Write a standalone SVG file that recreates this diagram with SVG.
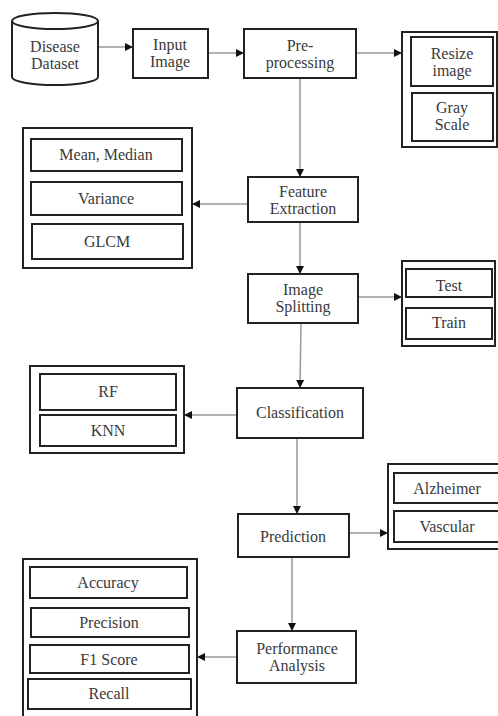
<svg xmlns="http://www.w3.org/2000/svg" width="498" height="716" viewBox="0 0 498 716" font-family="'Liberation Serif', 'Times New Roman', 'DejaVu Serif', serif">
<defs>
<marker id="ah" viewBox="0 0 10 10" refX="10" refY="5" markerWidth="8" markerHeight="8" markerUnits="userSpaceOnUse" orient="auto">
<path d="M0,0 L10,5 L0,10 z" fill="#111"/>
</marker>
<style>
.b{fill:#fff;stroke:#222;stroke-width:2}
.o{fill:#fff;stroke:#222;stroke-width:2}
.c{fill:none;stroke:#999;stroke-width:1.5;marker-end:url(#ah)}
text{font-size:16px;fill:#3a3a3a;text-anchor:middle}
</style>
</defs>
<rect width="498" height="716" fill="#fff"/>
<g id="connectors">
<path class="c" d="M98,47 H133"/>
<path class="c" d="M208,53 H244"/>
<path class="c" d="M356,53 H402"/>
<path class="c" d="M300,78 V177"/>
<path class="c" d="M248,204 H192"/>
<path class="c" d="M300,222 V274"/>
<path class="c" d="M358,297 H402"/>
<path class="c" d="M301,323 L300,388"/>
<path class="c" d="M237,415 H184"/>
<path class="c" d="M297,438 V514"/>
<path class="c" d="M349,533 H388"/>
<path class="c" d="M292,557 V631"/>
<path class="c" d="M237,657 H197"/>
</g>
<g id="disease-dataset">
<path class="b" d="M12,21 V77 A43,8 0 0 0 98,77 V21"/>
<ellipse class="b" cx="55" cy="21" rx="43" ry="8"/>
<text x="55" y="52">Disease</text>
<text x="55" y="69">Dataset</text>
</g>
<g id="input-image">
<rect class="b" x="133" y="29" width="75" height="49"/>
<text x="170" y="50">Input</text>
<text x="170" y="67">Image</text>
</g>
<g id="pre-processing">
<rect class="b" x="244" y="29" width="112" height="49"/>
<text x="300" y="51">Pre-</text>
<text x="300" y="68">processing</text>
</g>
<g id="preprocess-options">
<rect class="o" x="402" y="32" width="95" height="115"/>
<rect class="b" x="411" y="37" width="82" height="49"/>
<text x="452" y="59">Resize</text>
<text x="452" y="76">image</text>
<rect class="b" x="412" y="93" width="81" height="48"/>
<text x="452" y="113">Gray</text>
<text x="452" y="130">Scale</text>
</g>
<g id="feature-options">
<rect class="o" x="23" y="128" width="169" height="140"/>
<rect class="b" x="31" y="139" width="151" height="32"/>
<text x="106" y="160">Mean, Median</text>
<rect class="b" x="31" y="182" width="151" height="33"/>
<text x="106" y="204">Variance</text>
<rect class="b" x="32" y="224" width="151" height="35"/>
<text x="107" y="247">GLCM</text>
</g>
<g id="feature-extraction">
<rect class="b" x="248" y="177" width="110" height="45"/>
<text x="303" y="197">Feature</text>
<text x="303" y="214">Extraction</text>
</g>
<g id="image-splitting">
<rect class="b" x="248" y="274" width="110" height="49"/>
<text x="303" y="295">Image</text>
<text x="303" y="312">Splitting</text>
</g>
<g id="split-options">
<rect class="o" x="402" y="261" width="93" height="85"/>
<rect class="b" x="406" y="269" width="86" height="28"/>
<text x="449" y="291">Test</text>
<rect class="b" x="406" y="308" width="86" height="31"/>
<text x="449" y="328">Train</text>
</g>
<g id="classifier-options">
<rect class="o" x="30" y="366" width="154" height="87"/>
<rect class="b" x="40" y="374" width="136" height="36"/>
<text x="108" y="397">RF</text>
<rect class="b" x="40" y="415" width="136" height="31"/>
<text x="108" y="436">KNN</text>
</g>
<g id="classification">
<rect class="b" x="237" y="388" width="126" height="50"/>
<text x="300" y="418">Classification</text>
</g>
<g id="prediction">
<rect class="b" x="238" y="514" width="111" height="43"/>
<text x="293" y="542">Prediction</text>
</g>
<g id="prediction-options">
<rect class="o" x="388" y="464" width="112" height="85"/>
<rect class="b" x="394" y="473" width="106" height="30"/>
<text x="447" y="494">Alzheimer</text>
<rect class="b" x="394" y="511" width="106" height="31"/>
<text x="447" y="532">Vascular</text>
</g>
<g id="metric-options">
<rect class="o" x="23" y="559" width="174" height="160"/>
<rect class="b" x="30" y="567" width="157" height="31"/>
<text x="108" y="588">Accuracy</text>
<rect class="b" x="31" y="608" width="158" height="29"/>
<text x="109" y="628">Precision</text>
<rect class="b" x="30" y="645" width="159" height="28"/>
<text x="109" y="665">F1 Score</text>
<rect class="b" x="28" y="679" width="163" height="30"/>
<text x="109" y="699">Recall</text>
</g>
<g id="performance-analysis">
<rect class="b" x="237" y="631" width="119" height="52"/>
<text x="297" y="654">Performance</text>
<text x="297" y="671">Analysis</text>
</g>
</svg>
